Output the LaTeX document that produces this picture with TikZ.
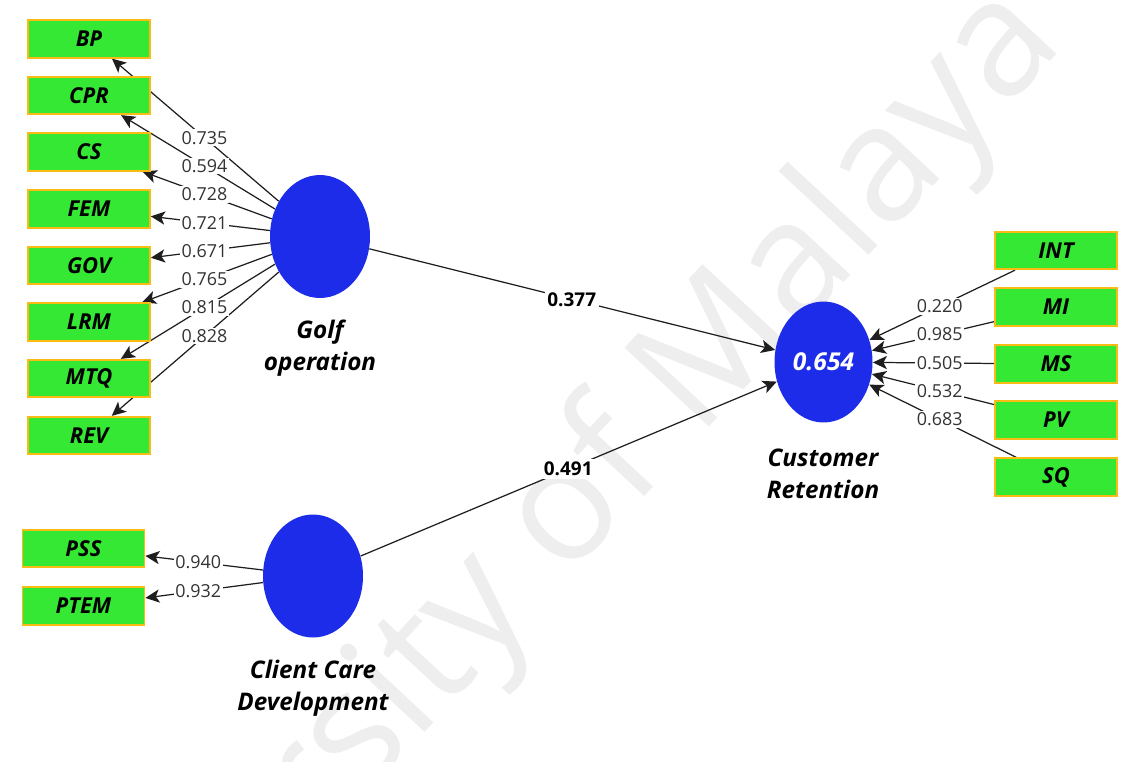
\documentclass[tikz,border=0pt]{standalone}
\usepackage{fontspec}
\setmainfont{Open Sans}
\usetikzlibrary{arrows.meta,shapes.geometric}

\definecolor{boxgreen}{RGB}{52,232,52}
\definecolor{boxedge}{RGB}{250,188,20}
\definecolor{lvblue}{RGB}{28,44,232}
\definecolor{linkgray}{RGB}{30,30,30}
\definecolor{markgray}{RGB}{238,238,238}

\pgfdeclarelayer{mark}
\pgfdeclarelayer{bg}
\pgfsetlayers{mark,bg,main}

\tikzset{
  ind/.style={rectangle, draw=boxedge, line width=1pt, fill=boxgreen,
    minimum width=2.44cm, minimum height=0.75cm, inner sep=0pt,
    font=\fontsize{12.5}{14}\selectfont\bfseries\itshape},
  lv/.style={ellipse, fill=lvblue, draw=none, minimum width=2cm,
    minimum height=2.46cm, inner sep=0pt},
  lvname/.style={align=center, font=\fontsize{13.8}{18.4}\selectfont\bfseries\itshape},
  link/.style={draw=linkgray, line width=0.7pt, -{Stealth[length=8pt,width=7.5pt,inset=2pt]}},
  ld/.style={fill=white, inner sep=1pt, text=black!80,
    font=\fontsize{10.2}{12}\selectfont},
  pc/.style={fill=white, inner sep=1.5pt, font=\fontsize{10.8}{12}\selectfont\bfseries},
}

\begin{document}
\begin{tikzpicture}[x=0.02cm, y=-0.02cm]
  % canvas and watermark
  \begin{pgfonlayer}{mark}
    \fill[white] (0,0) rectangle (1138,761);
    \begin{scope}
      \clip (0,0) rectangle (1138,761);
      \node[text=markgray, rotate=47, font=\fontsize{92}{96}\selectfont]
        (wm) at (514,574) {University of Malaya};
    \end{scope}
  \end{pgfonlayer}
  \useasboundingbox (0,0) rectangle (1138,761);

  % latent variables
  \node[lv] (golf) at (320,236.5) {};
  \node[lv] (ccd) at (313,576) {};
  \node[lv, minimum width=1.96cm, minimum height=2.42cm,
        text=white, font=\fontsize{14}{16}\selectfont\bfseries\itshape]
        (cr) at (823.5,362) {0.654};

  \node[lvname] (golfname) at (320,348) {Golf\\operation};
  \node[lvname] (ccdname) at (313,688) {Client Care\\Development};
  \node[lvname] (crname) at (823,474) {Customer\\Retention};

  % indicators of Golf operation
  \foreach \n/\y in {BP/39, CPR/95.5, CS/152, FEM/209, GOV/265.5,
                     LRM/322, MTQ/378.5, REV/435.5}
    \node[ind] (\n) at (89,\y) {\n};

  % indicators of Client Care Development
  \node[ind] (PSS) at (83.5,548.5) {PSS};
  \node[ind] (PTEM) at (83.5,606) {PTEM};

  % indicators of Customer Retention
  \foreach \n/\y in {INT/250.5, MI/307, MS/364, PV/420, SQ/477}
    \node[ind] (\n) at (1056,\y) {\n};

  % outer loadings
  \foreach \n/\v in {BP/0.735, CPR/0.594, CS/0.728, FEM/0.721, GOV/0.671,
                     LRM/0.765, MTQ/0.815, REV/0.828} {
    \begin{pgfonlayer}{bg}
      \draw[link] (golf) -- (\n);
    \end{pgfonlayer}
    \path (golf.center) -- (\n.center) node[ld, midway] {\v};
  }
  \foreach \n/\v in {PSS/0.940, PTEM/0.932} {
    \begin{pgfonlayer}{bg}
      \draw[link] (ccd) -- (\n);
    \end{pgfonlayer}
    \path (ccd.center) -- (\n.center) node[ld, midway] {\v};
  }
  \foreach \n/\v in {INT/0.220, MI/0.985, MS/0.505, PV/0.532, SQ/0.683} {
    \begin{pgfonlayer}{bg}
      \draw[link] (\n) -- (cr);
    \end{pgfonlayer}
    \path (cr.center) -- (\n.center) node[ld, midway] {\v};
  }

  % path coefficients
  \begin{pgfonlayer}{bg}
    \draw[link] (golf) -- (cr);
    \draw[link] (ccd) -- (cr);
  \end{pgfonlayer}
  \path (golf.center) -- (cr.center) node[pc, midway] {0.377};
  \path (ccd.center) -- (cr.center) node[pc, midway] {0.491};
\end{tikzpicture}
\end{document}
